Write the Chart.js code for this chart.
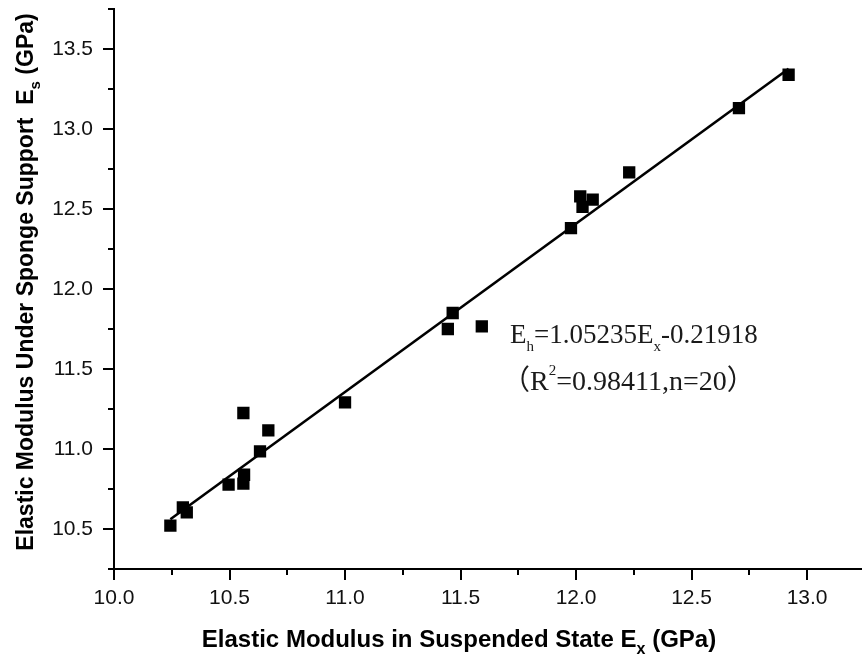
<!DOCTYPE html>
<html><head><meta charset="utf-8">
<script src="https://cdn.jsdelivr.net/npm/chart.js@4/dist/chart.umd.min.js"></script>
<style>html,body{margin:0;padding:0;background:#fff}#wrap{width:862px;height:658px;position:relative}</style>
</head><body><div id="wrap"><canvas id="c" width="862" height="658"></canvas></div>
<script>
// Data
const suspendedEx = [10.244, 10.298, 10.315, 10.496, 10.560, 10.563, 10.560, 10.668, 10.632, 11.000, 11.466, 11.445, 11.592, 12.230, 12.018, 12.072, 12.028, 11.978, 12.705, 12.920];
const spongeEs    = [10.521, 10.635, 10.604, 10.777, 11.225, 10.839, 10.783, 11.116, 10.985, 11.291, 11.850, 11.750, 11.766, 12.729, 12.579, 12.558, 12.513, 12.381, 13.131, 13.339];
// Fitted line endpoints (Eh = 1.05235Ex - 0.21918)
const fitLineX = [10.244, 12.920];
const fitLineY = [10.561, 13.377];
// Axis ticks
const xMajorTicks = [10.0, 10.5, 11.0, 11.5, 12.0, 12.5, 13.0];
const xMinorTicks = [10.25, 10.75, 11.25, 11.75, 12.25, 12.75];
const yMajorTicks = [10.5, 11.0, 11.5, 12.0, 12.5, 13.0, 13.5];
const yMinorTicks = [10.25, 10.75, 11.25, 11.75, 12.25, 12.75, 13.25, 13.75];
const xTickLabels = ['10.0', '10.5', '11.0', '11.5', '12.0', '12.5', '13.0'];
const yTickLabels = ['10.5', '11.0', '11.5', '12.0', '12.5', '13.0', '13.5'];
// Texts
const xTitleParts = [['Elastic Modulus in Suspended State E', 0], ['x', 1], [' (GPa)', 0]];
const yTitleParts = [['Elastic Modulus Under Sponge Support  E', 0], ['s', 1], [' (GPa)', 0]];
const eqLine1 = [['E', 0], ['h', 1], ['=1.05235E', 0], ['x', 1], ['-0.21918', 0]];
const eqLine2 = [['\uFF08R', 0], ['2', 2], ['=0.98411,n=20\uFF09', 0]];

function labelFor(v, majors, labels) {
  const i = majors.findIndex(m => Math.abs(m - v) < 1e-6);
  return i >= 0 ? labels[i] : '';
}

function drawParts(ctx, parts, x, y, font, size, subSize, color) {
  ctx.fillStyle = color;
  ctx.textBaseline = 'alphabetic';
  ctx.textAlign = 'left';
  let cx = x;
  for (const [t, kind] of parts) {
    let fs = size, dy = 0;
    if (kind === 1) { fs = subSize; dy = size * 0.3; }
    if (kind === 2) { fs = subSize; dy = -size * 0.55; }
    ctx.font = font.replace('{s}', fs + 'px');
    ctx.fillText(t, cx, y + dy);
    cx += ctx.measureText(t).width;
  }
  return cx - x;
}
function measureParts(ctx, parts, font, size, subSize) {
  let w = 0;
  for (const [t, kind] of parts) {
    const fs = kind ? subSize : size;
    ctx.font = font.replace('{s}', fs + 'px');
    w += ctx.measureText(t).width;
  }
  return w;
}

const decor = {
  id: 'decor',
  afterDraw(chart) {
    const ctx = chart.ctx;
    const xs = chart.scales.x, ys = chart.scales.y;
    ctx.save();
    ctx.strokeStyle = '#000';
    ctx.lineWidth = 2;
    ctx.beginPath();
    const yAxisX = chart.chartArea.left, xAxisY = chart.chartArea.bottom;
    xMajorTicks.forEach(v => { const p = Math.round(xs.getPixelForValue(v)); ctx.moveTo(p, xAxisY); ctx.lineTo(p, xAxisY + 11); });
    xMinorTicks.forEach(v => { const p = Math.round(xs.getPixelForValue(v)); ctx.moveTo(p, xAxisY); ctx.lineTo(p, xAxisY + 6); });
    yMajorTicks.forEach(v => { const p = Math.round(ys.getPixelForValue(v)); ctx.moveTo(yAxisX, p); ctx.lineTo(yAxisX - 11, p); });
    yMinorTicks.forEach(v => { const p = Math.round(ys.getPixelForValue(v)); ctx.moveTo(yAxisX, p); ctx.lineTo(yAxisX - 6, p); });
    ctx.moveTo(chart.chartArea.right, xAxisY); ctx.lineTo(chart.width, xAxisY);
    ctx.stroke();

    const tfont = 'bold {s} "Liberation Sans", Arial, sans-serif';
    const wx = measureParts(ctx, xTitleParts, tfont, 24, 16);
    drawParts(ctx, xTitleParts, 459 - wx / 2, 647, tfont, 24, 16, '#000');
    const wy = measureParts(ctx, yTitleParts, tfont, 23, 15);
    ctx.save();
    ctx.translate(33, 282);
    ctx.rotate(-Math.PI / 2);
    drawParts(ctx, yTitleParts, -wy / 2, 0, tfont, 23, 15, '#000');
    ctx.restore();

    const efont = '{s} "Liberation Serif", "Times New Roman", "Noto Sans CJK SC", serif';
    drawParts(ctx, eqLine1, 510, 343, efont, 27, 15, '#1a1a1a');
    drawParts(ctx, eqLine2, 502, 390, efont, 28, 15, '#1a1a1a');
    ctx.restore();
  }
};

new Chart(document.getElementById('c'), {
  type: 'scatter',
  data: {
    datasets: [
      {
        type: 'line',
        data: fitLineX.map((x, i) => ({ x, y: fitLineY[i] })),
        borderColor: '#000', borderWidth: 2.6, pointRadius: 0, fill: false, order: 2
      },
      {
        data: suspendedEx.map((x, i) => ({ x, y: spongeEs[i] })),
        pointStyle: 'rect', pointRadius: 8.7, pointHoverRadius: 8.7,
        backgroundColor: '#000', borderColor: '#000', borderWidth: 0, order: 1
      }
    ]
  },
  options: {
    responsive: false, animation: false, devicePixelRatio: 1,
    layout: { padding: { top: 9, right: 4, left: 0, bottom: 0 } },
    plugins: { legend: { display: false }, tooltip: { enabled: false } },
    scales: {
      x: {
        type: 'linear', min: 10, max: 13.2,
        afterBuildTicks: s => { s.ticks = xMajorTicks.map(v => ({ value: v })); },
        afterFit: s => { s.height = 89; s.paddingLeft = 0; s.paddingRight = 0; },
        grid: { drawOnChartArea: false, tickLength: 11, color: 'rgba(0,0,0,0)' },
        border: { display: true, color: '#000', width: 2 },
        ticks: {
          autoSkip: false, maxRotation: 0, padding: 6, color: '#111',
          font: { family: '"Liberation Sans", Arial, sans-serif', size: 21 },
          callback: v => labelFor(v, xMajorTicks, xTickLabels)
        }
      },
      y: {
        type: 'linear', min: 10.25, max: 13.75,
        afterBuildTicks: s => { s.ticks = yMajorTicks.map(v => ({ value: v })); },
        afterFit: s => { s.width = 114; s.paddingTop = 0; s.paddingBottom = 0; },
        grid: { drawOnChartArea: false, tickLength: 11, color: 'rgba(0,0,0,0)' },
        border: { display: true, color: '#000', width: 2 },
        ticks: {
          autoSkip: false, padding: 10, color: '#111',
          font: { family: '"Liberation Sans", Arial, sans-serif', size: 21 },
          callback: v => labelFor(v, yMajorTicks, yTickLabels)
        }
      }
    }
  },
  plugins: [decor]
});
</script>
</body></html>
